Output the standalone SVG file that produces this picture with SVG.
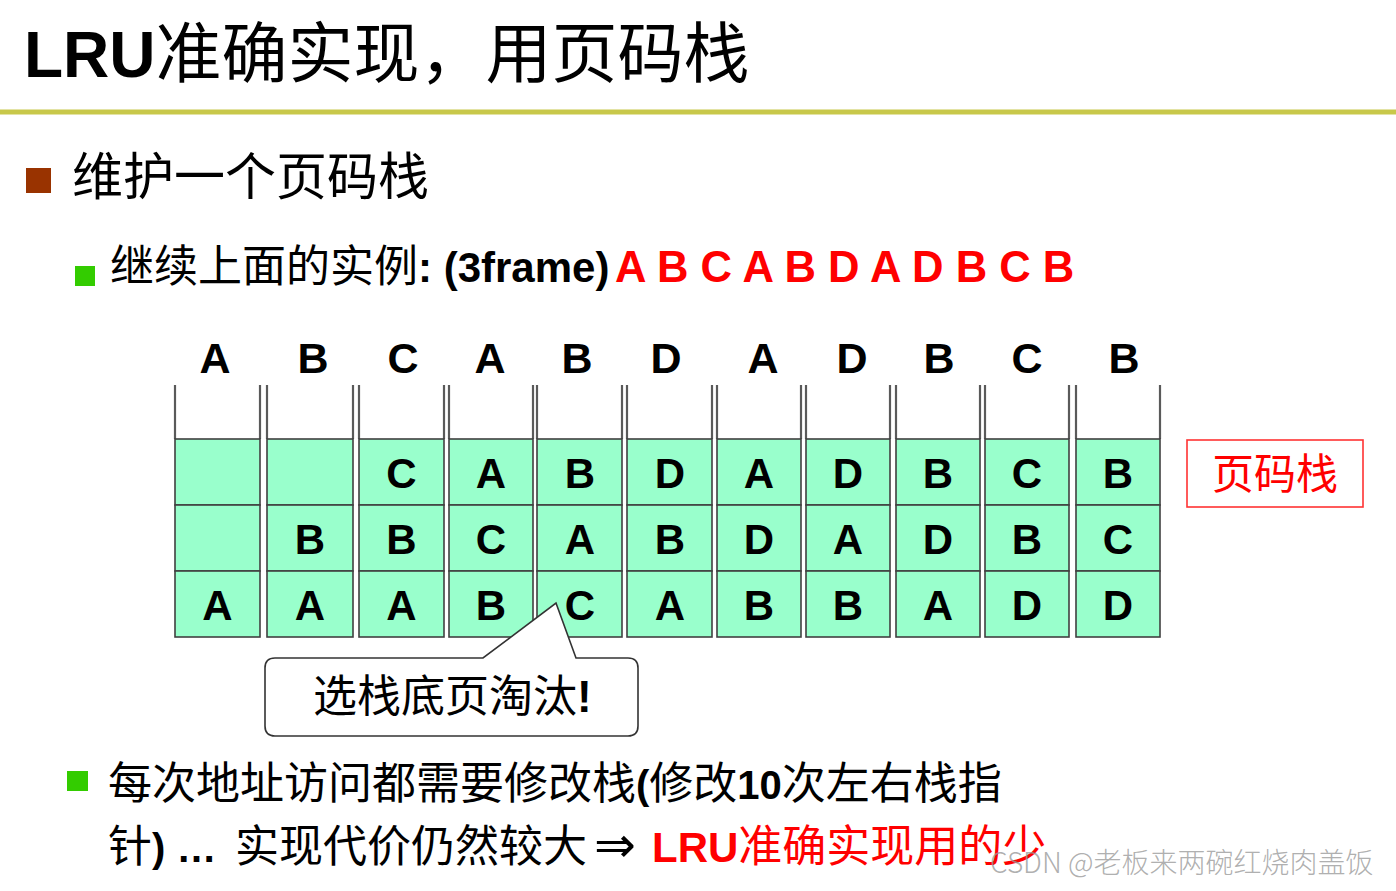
<svg xmlns="http://www.w3.org/2000/svg" width="1396" height="891" viewBox="0 0 1396 891">
<style>
.cjk{font-family:"Noto Sans CJK SC","Noto Sans CJK JP",sans-serif;font-weight:normal}
.lat{font-family:"Liberation Sans",Arial,sans-serif;font-weight:bold}
.wall{stroke:#5a5a5a;stroke-width:2.2;fill:none}
.cell{fill:#99FFCC;stroke:#404040;stroke-width:1.6}
.cl{font-family:"Liberation Sans",Arial,sans-serif;font-weight:bold;font-size:42px;fill:#000;text-anchor:middle}
.top{font-family:"Liberation Sans",Arial,sans-serif;font-weight:bold;font-size:43px;fill:#000;text-anchor:middle}
.red{fill:#FF0000}
</style>
<rect x="0" y="0" width="1396" height="891" fill="#ffffff"/>

<g id="title">
<text x="24" y="77" fill="#000"><tspan class="lat" font-size="64">LRU</tspan><tspan class="cjk" font-size="66">准确实现，用页码栈</tspan></text>
<line x1="0" y1="112" x2="1396" y2="112" stroke="#C8C84A" stroke-width="5"/>
</g>

<g id="bullet1">
<rect x="26" y="168" width="25" height="25" fill="#993300"/>
<text x="72" y="195" font-size="51" class="cjk" fill="#000">维护一个页码栈</text>
</g>

<g id="bullet2">
<rect x="75" y="266" width="20" height="20" fill="#33CC00"/>
<text y="282" fill="#000"><tspan x="110" class="cjk" font-size="44">继续上面的实例</tspan><tspan class="lat" font-size="42">: (3frame)</tspan></text>
<text x="615" y="282" class="lat red" font-size="43.6">A B C A B D A D B C B</text>
</g>

<g id="sequence">
<text class="top" x="215" y="373">A</text>
<text class="top" x="313" y="373">B</text>
<text class="top" x="403" y="373">C</text>
<text class="top" x="490" y="373">A</text>
<text class="top" x="577" y="373">B</text>
<text class="top" x="666" y="373">D</text>
<text class="top" x="763" y="373">A</text>
<text class="top" x="852" y="373">D</text>
<text class="top" x="939" y="373">B</text>
<text class="top" x="1027" y="373">C</text>
<text class="top" x="1124" y="373">B</text>
</g>

<g id="stack1">
<line class="wall" x1="175" y1="385" x2="175" y2="439"/><line class="wall" x1="260" y1="385" x2="260" y2="439"/>
<rect class="cell" x="175" y="439" width="85" height="66"/><rect class="cell" x="175" y="505" width="85" height="66"/><rect class="cell" x="175" y="571" width="85" height="66"/>
<text class="cl" x="217.5" y="620">A</text>
</g>
<g id="stack2">
<line class="wall" x1="267" y1="385" x2="267" y2="439"/><line class="wall" x1="353" y1="385" x2="353" y2="439"/>
<rect class="cell" x="267" y="439" width="86" height="66"/><rect class="cell" x="267" y="505" width="86" height="66"/><rect class="cell" x="267" y="571" width="86" height="66"/>
<text class="cl" x="310" y="554">B</text><text class="cl" x="310" y="620">A</text>
</g>
<g id="stack3">
<line class="wall" x1="359" y1="385" x2="359" y2="439"/><line class="wall" x1="444" y1="385" x2="444" y2="439"/>
<rect class="cell" x="359" y="439" width="85" height="66"/><rect class="cell" x="359" y="505" width="85" height="66"/><rect class="cell" x="359" y="571" width="85" height="66"/>
<text class="cl" x="401.5" y="488">C</text><text class="cl" x="401.5" y="554">B</text><text class="cl" x="401.5" y="620">A</text>
</g>
<g id="stack4">
<line class="wall" x1="449" y1="385" x2="449" y2="439"/><line class="wall" x1="533" y1="385" x2="533" y2="439"/>
<rect class="cell" x="449" y="439" width="84" height="66"/><rect class="cell" x="449" y="505" width="84" height="66"/><rect class="cell" x="449" y="571" width="84" height="66"/>
<text class="cl" x="491" y="488">A</text><text class="cl" x="491" y="554">C</text><text class="cl" x="491" y="620">B</text>
</g>
<g id="stack5">
<line class="wall" x1="537" y1="385" x2="537" y2="439"/><line class="wall" x1="622" y1="385" x2="622" y2="439"/>
<rect class="cell" x="537" y="439" width="85" height="66"/><rect class="cell" x="537" y="505" width="85" height="66"/><rect class="cell" x="537" y="571" width="85" height="66"/>
<text class="cl" x="580" y="488">B</text><text class="cl" x="580" y="554">A</text><text class="cl" x="580" y="620">C</text>
</g>
<g id="stack6">
<line class="wall" x1="627" y1="385" x2="627" y2="439"/><line class="wall" x1="712" y1="385" x2="712" y2="439"/>
<rect class="cell" x="627" y="439" width="85" height="66"/><rect class="cell" x="627" y="505" width="85" height="66"/><rect class="cell" x="627" y="571" width="85" height="66"/>
<text class="cl" x="670" y="488">D</text><text class="cl" x="670" y="554">B</text><text class="cl" x="670" y="620">A</text>
</g>
<g id="stack7">
<line class="wall" x1="717" y1="385" x2="717" y2="439"/><line class="wall" x1="801" y1="385" x2="801" y2="439"/>
<rect class="cell" x="717" y="439" width="84" height="66"/><rect class="cell" x="717" y="505" width="84" height="66"/><rect class="cell" x="717" y="571" width="84" height="66"/>
<text class="cl" x="759" y="488">A</text><text class="cl" x="759" y="554">D</text><text class="cl" x="759" y="620">B</text>
</g>
<g id="stack8">
<line class="wall" x1="806" y1="385" x2="806" y2="439"/><line class="wall" x1="890" y1="385" x2="890" y2="439"/>
<rect class="cell" x="806" y="439" width="84" height="66"/><rect class="cell" x="806" y="505" width="84" height="66"/><rect class="cell" x="806" y="571" width="84" height="66"/>
<text class="cl" x="848" y="488">D</text><text class="cl" x="848" y="554">A</text><text class="cl" x="848" y="620">B</text>
</g>
<g id="stack9">
<line class="wall" x1="896" y1="385" x2="896" y2="439"/><line class="wall" x1="980" y1="385" x2="980" y2="439"/>
<rect class="cell" x="896" y="439" width="84" height="66"/><rect class="cell" x="896" y="505" width="84" height="66"/><rect class="cell" x="896" y="571" width="84" height="66"/>
<text class="cl" x="938" y="488">B</text><text class="cl" x="938" y="554">D</text><text class="cl" x="938" y="620">A</text>
</g>
<g id="stack10">
<line class="wall" x1="985" y1="385" x2="985" y2="439"/><line class="wall" x1="1069" y1="385" x2="1069" y2="439"/>
<rect class="cell" x="985" y="439" width="84" height="66"/><rect class="cell" x="985" y="505" width="84" height="66"/><rect class="cell" x="985" y="571" width="84" height="66"/>
<text class="cl" x="1027" y="488">C</text><text class="cl" x="1027" y="554">B</text><text class="cl" x="1027" y="620">D</text>
</g>
<g id="stack11">
<line class="wall" x1="1076" y1="385" x2="1076" y2="439"/><line class="wall" x1="1160" y1="385" x2="1160" y2="439"/>
<rect class="cell" x="1076" y="439" width="84" height="66"/><rect class="cell" x="1076" y="505" width="84" height="66"/><rect class="cell" x="1076" y="571" width="84" height="66"/>
<text class="cl" x="1118" y="488">B</text><text class="cl" x="1118" y="554">C</text><text class="cl" x="1118" y="620">D</text>
</g>

<g id="stack-label">
<rect x="1187" y="440" width="176" height="67" fill="#ffffff" stroke="#FF3333" stroke-width="1.6"/>
<text x="1275" y="489" font-size="42" class="cjk" fill="#FF0000" text-anchor="middle">页码栈</text>
</g>

<g id="callout">
<path d="M275 658 L483 658 L556 603 L576 658 L628 658 Q638 658 638 668 L638 726 Q638 736 628 736 L275 736 Q265 736 265 726 L265 668 Q265 658 275 658 Z" fill="#ffffff" stroke="#333333" stroke-width="1.6"/>
<text x="313" y="712" font-size="44" fill="#000"><tspan class="cjk">选栈底页淘汰</tspan><tspan class="lat">!</tspan></text>
</g>

<g id="connectors"></g>

<g id="bullet3">
<rect x="67" y="771" width="21" height="20" fill="#33CC00"/>
<text y="799" fill="#000"><tspan x="108" class="cjk" font-size="44">每次地址访问都需要修改栈</tspan><tspan class="lat" font-size="40">(</tspan><tspan class="cjk" font-size="44">修改</tspan><tspan class="lat" font-size="40">10</tspan><tspan class="cjk" font-size="44">次左右栈指</tspan></text>
<text y="862" fill="#000"><tspan x="108" class="cjk" font-size="44">针</tspan><tspan class="lat" font-size="40">) … </tspan><tspan x="235" class="cjk" font-size="44">实现代价仍然较大</tspan><tspan x="594" font-family="DejaVu Sans,sans-serif" font-size="50">⇒</tspan></text>
<text x="652" y="862" class="red"><tspan class="lat" font-size="42">LRU</tspan><tspan class="cjk" font-size="44">准确实现用的少</tspan></text>
</g>

<g id="watermark">
<text x="990" y="873" font-size="28" fill="#9a9a9a" fill-opacity="0.8" font-family="Noto Sans CJK SC,sans-serif" font-weight="300">CSDN @老板来两碗红烧肉盖饭</text>
</g>
</svg>
